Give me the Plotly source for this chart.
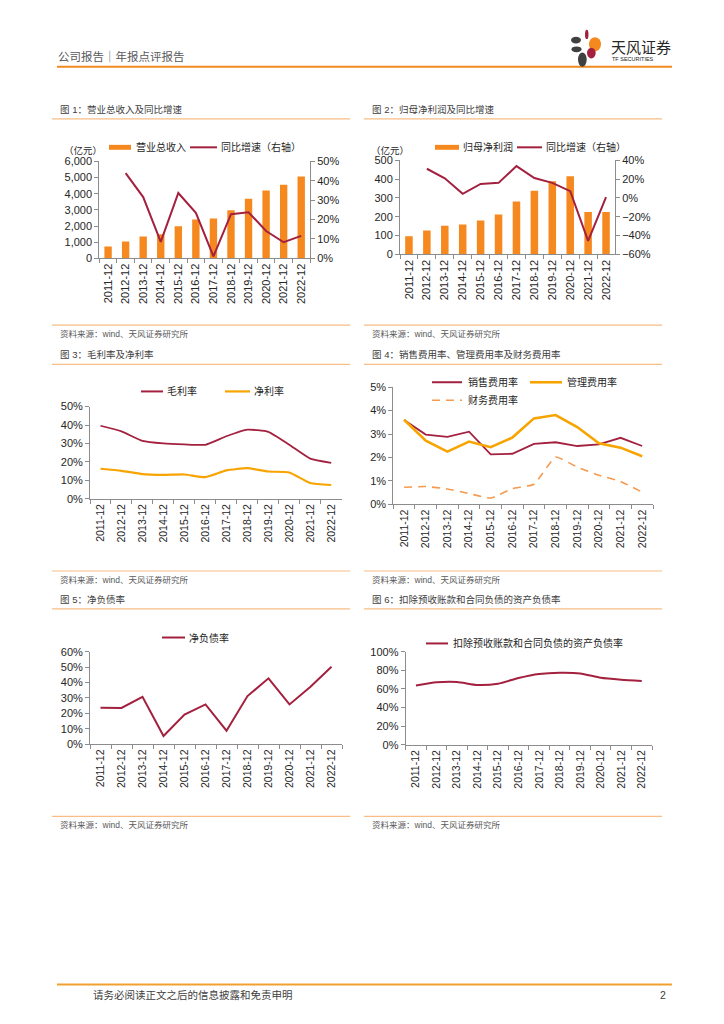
import plotly.graph_objects as go

# ---------------- data ----------------
cats = ["2011-12", "2012-12", "2013-12", "2014-12", "2015-12", "2016-12",
        "2017-12", "2018-12", "2019-12", "2020-12", "2021-12", "2022-12"]

revenue = [735, 1041, 1347, 1490, 1980, 2408, 2470, 2980, 3694, 4204, 4551, 5061]          # 亿元
revenue_yoy = [None, 44.0, 31.6, 8.5, 33.7, 23.5, 1.0, 22.8, 23.8, 14.1, 8.3, 11.6]       # %

profit = [96, 126, 152, 159, 180, 211, 280, 337, 388, 414, 225, 225]                      # 亿元
profit_yoy = [None, 30.9, 20.8, 4.3, 14.8, 15.9, 33.7, 21.1, 15.9, 7.1, -45.7, 0.8]       # %

gross_margin = [39.6, 36.6, 31.4, 30.0, 29.5, 29.3, 33.9, 37.5, 36.3, 29.3, 21.8, 19.5]
net_margin = [16.3, 15.2, 13.4, 13.0, 13.2, 11.8, 15.4, 16.6, 14.8, 14.3, 8.6, 7.5]

sell_rate = [3.60, 2.98, 2.88, 3.10, 2.13, 2.16, 2.58, 2.65, 2.49, 2.56, 2.84, 2.49]
admin_rate = [3.61, 2.72, 2.25, 2.68, 2.44, 2.85, 3.67, 3.81, 3.30, 2.61, 2.42, 2.05]
fin_rate = [0.73, 0.76, 0.66, 0.46, 0.27, 0.67, 0.86, 2.02, 1.59, 1.24, 0.98, 0.52]

net_debt_ratio = [23.7, 23.5, 30.7, 5.3, 19.2, 25.8, 8.8, 31.2, 42.7, 25.8, 37.2, 50.2]
adj_debt_ratio = [63.6, 67.1, 67.5, 64.3, 65.7, 71.7, 76.0, 77.4, 76.7, 72.1, 70.0, 68.6]

# ---------------- style ----------------
W, H = 724, 1024
FONT = "Liberation Sans, Arial, Noto Sans CJK SC, sans-serif"
ORANGE = "#F5891F"
CRIMSON = "#A3213F"
GOLD = "#F7A400"
LORANGE = "#F59A4E"
AXIS = "#8C8C8C"
TXT = "#262626"
GRAYTXT = "#404040"
SEP = "#F8BE86"


def X(px):
    return px / W


def Y(py):
    return 1 - py / H


def xd(a, b):
    return [X(a), X(b)]


def yd(top, bottom):
    return [Y(bottom), Y(top)]


def xaxis(dom, anchor, size=11):
    return dict(domain=dom, anchor=anchor, type="category", range=[-0.5, 11.5],
                showline=True, linecolor=AXIS, linewidth=1, ticks="outside", ticklen=4,
                tickcolor=AXIS, tickson="boundaries", tickangle=-90,
                tickfont=dict(size=size, color=TXT, family=FONT),
                showgrid=False, zeroline=False, fixedrange=True)


def yaxis(dom, anchor, rng, dtick, suffix="", fmt=None, side="left", overlay=None):
    d = dict(anchor=anchor, range=rng, dtick=dtick, tick0=rng[0],
             showline=True, linecolor=AXIS, linewidth=1, ticks="outside", ticklen=4,
             tickcolor=AXIS, ticksuffix=suffix, side=side,
             tickfont=dict(size=11, color=TXT, family=FONT),
             showgrid=False, zeroline=False, fixedrange=True)
    if fmt:
        d["tickformat"] = fmt
    if overlay:
        d["overlaying"] = overlay
    else:
        d["domain"] = dom
    return d


fig = go.Figure()

# chart 1
fig.add_trace(go.Bar(x=cats, y=revenue, xaxis="x", yaxis="y", marker_color=ORANGE,
                     width=0.42, marker_line_width=0))
fig.add_trace(go.Scatter(x=cats, y=revenue_yoy, xaxis="x", yaxis="y7", mode="lines",
                         line=dict(color=CRIMSON, width=2)))
# chart 2
fig.add_trace(go.Bar(x=cats, y=profit, xaxis="x2", yaxis="y2", marker_color=ORANGE,
                     width=0.42, marker_line_width=0))
fig.add_trace(go.Scatter(x=cats, y=profit_yoy, xaxis="x2", yaxis="y8", mode="lines",
                         line=dict(color=CRIMSON, width=2)))
# chart 3
fig.add_trace(go.Scatter(x=cats, y=gross_margin, xaxis="x3", yaxis="y3", mode="lines",
                         line=dict(color=CRIMSON, width=1.8, shape="spline", smoothing=0.5)))
fig.add_trace(go.Scatter(x=cats, y=net_margin, xaxis="x3", yaxis="y3", mode="lines",
                         line=dict(color=GOLD, width=2.2, shape="spline", smoothing=0.5)))
# chart 4
fig.add_trace(go.Scatter(x=cats, y=sell_rate, xaxis="x4", yaxis="y4", mode="lines",
                         line=dict(color=CRIMSON, width=1.8)))
fig.add_trace(go.Scatter(x=cats, y=admin_rate, xaxis="x4", yaxis="y4", mode="lines",
                         line=dict(color=GOLD, width=2.6)))
fig.add_trace(go.Scatter(x=cats, y=fin_rate, xaxis="x4", yaxis="y4", mode="lines",
                         line=dict(color=LORANGE, width=1.6, dash="8px,6px",
                                   shape="spline", smoothing=0.4)))
# chart 5
fig.add_trace(go.Scatter(x=cats, y=net_debt_ratio, xaxis="x5", yaxis="y5", mode="lines",
                         line=dict(color=CRIMSON, width=2)))
# chart 6
fig.add_trace(go.Scatter(x=cats, y=adj_debt_ratio, xaxis="x6", yaxis="y6", mode="lines",
                         line=dict(color=CRIMSON, width=2, shape="spline", smoothing=0.6)))

layout = dict(
    width=W, height=H, margin=dict(l=0, r=0, t=0, b=0),
    paper_bgcolor="white", plot_bgcolor="white", showlegend=False,
    font=dict(family=FONT, color=TXT),
    xaxis=xaxis(xd(99.3, 310), "y"),
    yaxis=yaxis(yd(157.3, 255.3), "x", [0, 6000], 1000, fmt=","),
    yaxis7=yaxis(None, "x", [0, 50], 10, suffix="%", side="right", overlay="y"),
    xaxis2=xaxis(xd(400, 615), "y2"),
    yaxis2=yaxis(yd(156, 251.3), "x2", [0, 500], 100),
    yaxis8=yaxis(None, "x2", [-60, 40], 20, suffix="%", side="right", overlay="y2"),
    xaxis3=xaxis(xd(90, 341.7), "y3", 10.5),
    yaxis3=yaxis(yd(405.3, 498.7), "x3", [0, 50], 10, suffix="%"),
    xaxis4=xaxis(xd(393.3, 653), "y4", 10.5),
    yaxis4=yaxis(yd(385.7, 504.3), "x4", [0, 5], 1, suffix="%"),
    xaxis5=xaxis(xd(90, 342), "y5", 10.5),
    yaxis5=yaxis(yd(653.3, 747), "x5", [0, 60], 10, suffix="%"),
    xaxis6=xaxis(xd(405.7, 652), "y6", 10.5),
    yaxis6=yaxis(yd(653.3, 747.7), "x6", [0, 100], 20, suffix="%"),
)
fig.update_layout(**layout)

shapes = []
annotations = []


def hline(x0, x1, y, color, width=1, dash=None):
    ln = dict(color=color, width=width)
    if dash:
        ln["dash"] = dash
    shapes.append(dict(type="line", xref="paper", yref="paper", x0=X(x0), x1=X(x1),
                       y0=Y(y), y1=Y(y), line=ln))


def text(t, x, y, size, color=TXT, anchor="left"):
    annotations.append(dict(text=t, x=X(x), y=Y(y), xref="paper", yref="paper",
                            xanchor=anchor, yanchor="middle", showarrow=False,
                            font=dict(size=size, color=color, family=FONT)))


def ellipse(x0, y0, x1, y1, color):
    shapes.append(dict(type="circle", xref="paper", yref="paper", x0=X(x0), x1=X(x1),
                       y0=Y(y1), y1=Y(y0), fillcolor=color, line=dict(width=0)))


# header
text("公司报告｜年报点评报告", 56, 50.7, 11.5, "#595959")
hline(57, 672, 61.5, "#F08A1E", 2)
# logo
ellipse(585, 24, 588.5, 33.5, CRIMSON)
ellipse(571, 31, 581, 38, "#404040")
ellipse(589, 31.5, 601, 46, ORANGE)
ellipse(571.5, 41, 581.5, 46.7, "#404040")
ellipse(587, 42.3, 595.7, 53, CRIMSON)
ellipse(578, 47, 586.7, 61.5, "#404040")
text("天风证券", 609, 42, 15, "#262626")
text("TF SECURITIES", 610, 54, 5.5, "#262626")

# section titles, separators, sources
left_col = (52, 350)
right_col = (364, 662)
titles = [
    ("图 1：营业总收入及同比增速", left_col, 105, 114.3, 323, 332),
    ("图 2：归母净利润及同比增速", right_col, 105, 114.3, 323, 332),
    ("图 3：毛利率及净利率", left_col, 353, 362.7, 571.7, 581),
    ("图 4：销售费用率、管理费用率及财务费用率", right_col, 353, 362.7, 571.7, 581),
    ("图 5：净负债率", left_col, 601, 610, 820, 829),
    ("图 6：扣除预收账款和合同负债的资产负债率", right_col, 601, 610, 820, 829),
]
for t, (c0, c1), ty, ly, sy, sty in titles:
    text(t, c0 + 6, ty, 9.5, GRAYTXT)
    hline(c0, c1, ly, SEP, 1.2)
    hline(c0, c1, sy, SEP, 1.2)
    text("资料来源：wind、天风证券研究所", c0 + 6, sty, 8.5, "#595959")

# chart 1 legend
shapes.append(dict(type="rect", xref="paper", yref="paper", x0=X(109), x1=X(131),
                   y0=Y(145.5), y1=Y(140.5), fillcolor=ORANGE, line=dict(width=0)))
text("营业总收入", 134, 143, 10)
hline(190, 217, 143, CRIMSON, 2)
text("同比增速（右轴）", 219, 143, 10)
text("（亿元）", 62, 146.5, 9.5)

# chart 2 legend
shapes.append(dict(type="rect", xref="paper", yref="paper", x0=X(435), x1=X(459),
                   y0=Y(145.5), y1=Y(140.5), fillcolor=ORANGE, line=dict(width=0)))
text("归母净利润", 461, 143, 10)
hline(517, 542, 143, CRIMSON, 2)
text("同比增速（右轴）", 544, 143, 10)
text("（亿元）", 369, 146.5, 9.5)

# chart 3 legend
hline(141, 163, 390, CRIMSON, 2)
text("毛利率", 165, 390, 10)
hline(225, 250, 390, GOLD, 2.2)
text("净利率", 252, 390, 10)

# chart 4 legend
hline(432, 462, 380.7, CRIMSON, 2)
text("销售费用率", 466, 380.7, 10)
hline(530, 562, 380.7, GOLD, 2.6)
text("管理费用率", 565, 380.7, 10)
hline(432, 462, 399, LORANGE, 1.6, "8px,6px")
text("财务费用率", 466, 399, 10)

# chart 5 legend
hline(162, 185, 639, CRIMSON, 2)
text("净负债率", 187, 639, 10)

# chart 6 legend
hline(426, 448, 645, CRIMSON, 2)
text("扣除预收账款和合同负债的资产负债率", 451, 645, 10)

# footer
hline(57, 672, 990, "#F0A030", 2)
text("请务必阅读正文之后的信息披露和免责申明", 91, 1001, 10.5, "#404040")
text("2", 668, 1001, 10.5, "#404040", anchor="right")

fig.update_layout(shapes=shapes, annotations=annotations)

fig.write_html("out.html", config={"displayModeBar": False},
               post_script="document.body.style.margin='0px';document.body.style.overflow='hidden';")
